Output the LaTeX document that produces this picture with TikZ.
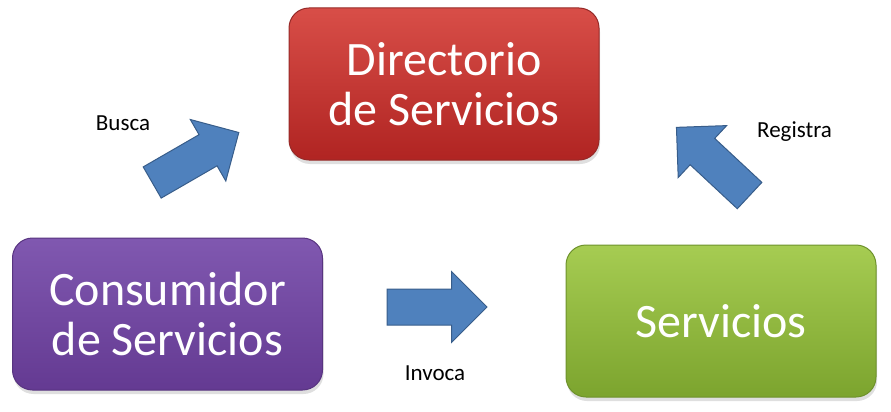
\documentclass[tikz,border=0pt]{standalone}
\usepackage{fontspec}
\setmainfont{Carlito}
\usepackage {tikz}
\usetikzlibrary {positioning}
\usetikzlibrary{shapes.arrows}
\usetikzlibrary{shadows}
\definecolor{dirtop}{RGB}{216,78,72}
\definecolor{dirbot}{RGB}{176,36,34}
\definecolor{dirline}{RGB}{150,42,40}
\definecolor{contop}{RGB}{128,88,176}
\definecolor{conbot}{RGB}{100,58,146}
\definecolor{conline}{RGB}{88,52,128}
\definecolor{srvtop}{RGB}{166,204,82}
\definecolor{srvbot}{RGB}{124,164,46}
\definecolor{srvline}{RGB}{110,146,44}
\definecolor{arrowfill}{RGB}{79,129,189}
\definecolor{arrowline}{RGB}{56,93,138}
\tikzset{
    box/.style = {rectangle, rounded corners=20pt, line width=1pt, text=white,
        minimum width=310pt, minimum height=152pt, align=center,
        font=\fontsize{48}{50}\selectfont,
        drop shadow={shadow xshift=1pt, shadow yshift=-4pt, opacity=.25}},
    blockarrow/.style = {single arrow, draw=arrowline, fill=arrowfill, line width=1pt,
        minimum height=100pt, inner xsep=0pt, inner ysep=17.5pt,
        single arrow head extend=17.5pt},
    tag/.style = {font=\fontsize{23}{27}\selectfont, anchor=base}}

\begin{document}
\begin{tikzpicture}[x=1pt, y=-1pt, node distance =230pt and 277pt, on grid]
    \useasboundingbox (0,0) rectangle (891,412);
    \node[box, draw=dirline, top color=dirtop, bottom color=dirbot] (D) at (444,84)
        {Directorio\\de Servicios};
    \node[box, draw=conline, top color=contop, bottom color=conbot] (C)
        [below left = 230pt and 276.5pt of D] {Consumidor\\de Servicios};
    \node[box, draw=srvline, top color=srvtop, bottom color=srvbot] (S)
        [below right = 237pt and 277pt of D] {Servicios};
    \node[blockarrow, rotate=30] (AB) at (187.7,162) {};
    \node[blockarrow, rotate=137] (AR) at (719.6,167.6) {};
    \node[blockarrow] (AI) at (428,307) {};
    \node[tag] (LB) at (123,130) {Busca};
    \node[tag] (LR) at (794.5,137) {Registra};
    \node[tag] (LI) at (435,380) {Invoca};
\end{tikzpicture}
\end{document}
